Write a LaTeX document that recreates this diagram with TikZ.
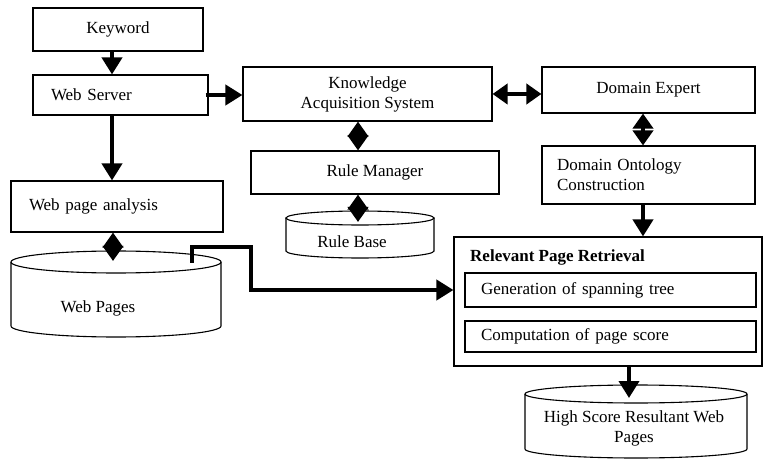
\documentclass[tikz,border=0pt]{standalone}
\usepackage{fontspec}
\setmainfont{Liberation Serif}
\usetikzlibrary{arrows.meta}

\tikzset{
  blk/.style={draw, line width=1.1pt, inner sep=0pt, align=center,
    font=\fontsize{17}{20}\selectfont},
  lblk/.style={blk, align=left, inner xsep=#1},
  txt/.style={inner sep=0pt, align=center, font=\fontsize{17}{20}\selectfont},
  harr/.style={line width=3.8pt, -{Triangle[length=17pt,width=20pt]}},
  dbl/.style={line width=3.8pt,
    {Triangle[length=15pt,width=20pt]}-{Triangle[length=15pt,width=20pt]}},
  can/.style={line width=1.1pt},
}

\begin{document}
\begin{tikzpicture}[x=1pt, y=-1pt]
    \useasboundingbox (0,0) rectangle (764,468);

    % left column
    \node[blk, minimum width=170pt, minimum height=43pt] (key) at (118,29.5) {Keyword};
    \node[lblk=18pt, text width=139pt, minimum height=40pt] (ws) at (120.5,95) {Web Server};
    \node[lblk=18pt, text width=176pt, minimum height=51pt] (wpa) at (117,206.5) {Web page analysis};

    % middle
    \node[blk, minimum width=249pt, minimum height=54pt] (kas) at (367.5,94) {Knowledge\\Acquisition System};
    \node[blk, minimum width=248pt, minimum height=43pt] (rm) at (375,172.5) {Rule Manager};

    % right
    \node[blk, minimum width=213pt, minimum height=46pt] (de) at (648.5,90) {Domain Expert};
    \node[lblk=15pt, text width=183pt, minimum height=58pt] (doc) at (648.5,175) {Domain Ontology\\Construction};
    \node[blk, minimum width=308pt, minimum height=129pt] (rpr) at (608,301.5) {};
    \node[txt, anchor=west, font=\fontsize{17}{20}\selectfont\bfseries] (rprtitle) at (470,257) {Relevant Page Retrieval};
    \node[lblk=16pt, text width=259pt, minimum height=34pt] (gen) at (610.5,290) {Generation of spanning tree};
    \node[lblk=16pt, text width=259pt, minimum height=31pt] (comp) at (610.5,336.5) {Computation of page score};

    % databases
    \draw[can] (116,262) ellipse [x radius=105pt, y radius=11pt];
    \draw[can] (11,262) -- (11,326) arc [start angle=180, end angle=360, x radius=105pt, y radius=11pt] -- (221,262);
    \node[txt] (wp) at (98,308) {Web Pages};

    \draw[can] (360,218) ellipse [x radius=74pt, y radius=7pt];
    \draw[can] (286,218) -- (286,251) arc [start angle=180, end angle=360, x radius=74pt, y radius=7pt] -- (434,218);
    \node[txt] (rb) at (352,242) {Rule Base};

    \draw[can] (636,394) ellipse [x radius=111pt, y radius=9pt];
    \draw[can] (525,394) -- (525,449) arc [start angle=180, end angle=360, x radius=111pt, y radius=9pt] -- (747,394);
    \node[txt] (hsr) at (634,428) {High Score Resultant Web\\Pages};

    \coordinate (wptop) at (113,261);
    \coordinate (rbtop) at (358,222);
    \coordinate (hsrtop) at (629,398);
    \coordinate (wpout) at (192,263);
    \coordinate (bend) at (251,247);

    % connectors
    \draw[harr] ([xshift=-6pt]key.south) -- ([xshift=-6pt]key.south |- ws.north);
    \draw[harr] ([xshift=-8.5pt]ws.south) -- ([xshift=-8.5pt]ws.south |- wpa.north);
    \draw[harr] ([xshift=-3pt]ws.east) -- (ws.east -| kas.west);
    \draw[dbl] (kas.east) -- (kas.east -| de.west);
    \draw[dbl] ([xshift=-9.5pt]kas.south) -- ([xshift=-9.5pt]kas.south |- rm.north);
    \draw[dbl] ([xshift=-17pt]rm.south) -- (rbtop);
    \draw[dbl] ([xshift=-5.5pt]de.south) -- ([xshift=-5.5pt]de.south |- doc.north);
    \draw[harr] ([xshift=-5.5pt]doc.south) -- ([xshift=-5.5pt]doc.south |- rpr.north);
    \draw[dbl] ([xshift=-4pt]wpa.south) -- (wptop);
    \draw[harr] ([xshift=21pt]rpr.south) -- (hsrtop);
    \draw[harr] (wpout) |- (bend) |- (rpr.west |- gen);
\end{tikzpicture}
\end{document}
